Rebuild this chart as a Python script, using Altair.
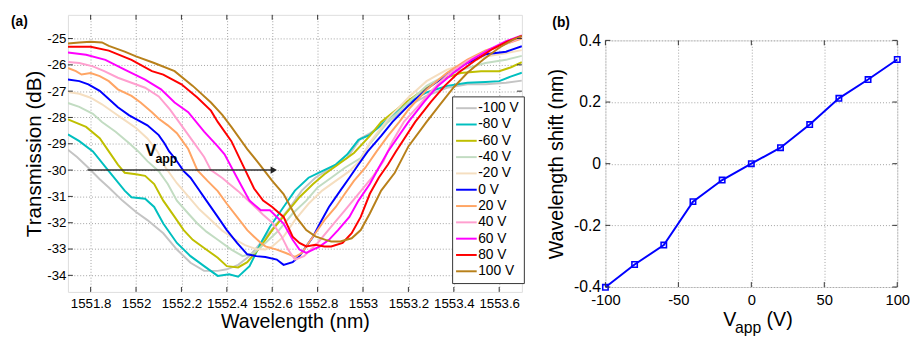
import altair as alt
import pandas as pd

FONT = "Liberation Sans"

# ---------------- panel (a) data ----------------
labels = ["-100 V", "-80 V", "-60 V", "-40 V", "-20 V", "0 V",
          "20 V", "40 V", "60 V", "80 V", "100 V"]
colors = ["#c4c4c4", "#00bfbf", "#bfbf00", "#c2dcc2", "#f5dec0", "#0000ff",
          "#ffa564", "#ff9fcf", "#ff00ff", "#ff0000", "#b8801a"]

wl_m100 = [1551.70, 1551.74, 1551.79, 1551.84, 1551.88, 1551.94, 1552.00, 1552.05, 1552.12, 1552.18,
           1552.24, 1552.30, 1552.36, 1552.40, 1552.45, 1552.50, 1552.56, 1552.62, 1552.68, 1552.73,
           1552.79, 1552.86, 1552.93, 1552.99, 1553.03, 1553.11, 1553.20, 1553.28, 1553.37, 1553.46,
           1553.54, 1553.63, 1553.70]
db_m100 = [-29.23, -29.5, -29.91, -30.35, -30.66, -31.16, -31.59, -31.9, -32.4, -33.02,
           -33.52, -33.83, -33.83, -33.77, -33.6, -33.27, -32.65, -32.03, -31.4, -30.78,
           -30.29, -29.91, -29.54, -28.79, -28.6, -28.17, -27.55, -27.18, -26.87, -26.74,
           -26.74, -26.68, -26.6]

wl_m80 = [1551.70, 1551.75, 1551.81, 1551.88, 1551.95, 1551.98, 1552.04, 1552.08, 1552.12, 1552.18,
          1552.24, 1552.30, 1552.36, 1552.41, 1552.45, 1552.50, 1552.55, 1552.59, 1552.65, 1552.70,
          1552.76, 1552.82, 1552.88, 1552.93, 1552.98, 1553.03, 1553.11, 1553.20, 1553.28, 1553.37,
          1553.46, 1553.54, 1553.60, 1553.65, 1553.70]
db_m80 = [-28.64, -28.9, -29.29, -30.04, -30.78, -31.03, -31.09, -31.4, -32.03, -32.77,
          -33.27, -33.65, -34.02, -33.96, -34.05, -33.65, -32.77, -32.15, -31.4, -30.78,
          -30.29, -30.04, -29.79, -29.41, -28.85, -28.66, -28.05, -27.43, -27.05, -26.8,
          -26.68, -26.65, -26.62, -26.45, -26.3]

wl_m60 = [1551.70, 1551.78, 1551.84, 1551.88, 1551.92, 1551.95, 1552.00, 1552.04, 1552.08, 1552.12,
          1552.17, 1552.21, 1552.25, 1552.30, 1552.36, 1552.40, 1552.45, 1552.49, 1552.55, 1552.60,
          1552.66, 1552.72, 1552.78, 1552.83, 1552.89, 1552.96, 1553.03, 1553.08, 1553.17, 1553.26,
          1553.34, 1553.43, 1553.52, 1553.60, 1553.65, 1553.70]
db_m60 = [-28.07, -28.36, -28.79, -29.29, -29.79, -30.1, -30.16, -30.22, -30.53, -31.16,
          -31.78, -32.28, -32.65, -32.96, -33.33, -33.65, -33.7, -33.5, -32.9, -32.28,
          -31.65, -31.03, -30.53, -30.16, -29.79, -29.35, -28.7, -28.17, -27.55, -26.99,
          -26.56, -26.31, -26.24, -26.24, -26.1, -25.9]

wl_m40 = [1551.70, 1551.75, 1551.81, 1551.85, 1551.91, 1551.97, 1552.01, 1552.05, 1552.10, 1552.14,
          1552.18, 1552.23, 1552.27, 1552.31, 1552.36, 1552.42, 1552.47, 1552.52, 1552.57, 1552.63,
          1552.69, 1552.75, 1552.80, 1552.86, 1552.92, 1552.99, 1553.03, 1553.11, 1553.20, 1553.28,
          1553.37, 1553.46, 1553.54, 1553.63, 1553.70]
db_m40 = [-27.45, -27.6, -27.86, -28.17, -28.54, -28.98, -29.29, -29.66, -30.04, -30.53,
          -31.16, -31.65, -32.03, -32.34, -32.65, -33.02, -33.27, -33.15, -32.77, -32.28,
          -31.65, -31.16, -30.66, -30.29, -29.91, -29.54, -29.0, -28.17, -27.43, -26.8,
          -26.37, -26.12, -25.93, -25.81, -25.66]

wl_m20 = [1551.70, 1551.75, 1551.80, 1551.85, 1551.90, 1551.95, 1552.00, 1552.05, 1552.095, 1552.13,
          1552.18, 1552.23, 1552.28, 1552.33, 1552.38, 1552.43, 1552.48, 1552.53, 1552.57, 1552.60,
          1552.65, 1552.70, 1552.76, 1552.82, 1552.88, 1552.94, 1552.99, 1553.03, 1553.11, 1553.20,
          1553.28, 1553.37, 1553.46, 1553.54, 1553.63, 1553.70]
db_m20 = [-27.03, -27.1, -27.25, -27.5, -27.8, -28.1, -28.4, -28.8, -29.3, -29.9,
          -30.5, -31.0, -31.5, -31.9, -32.3, -32.6, -32.85, -33.0, -33.02, -32.9,
          -32.53, -31.9, -31.28, -30.78, -30.41, -30.04, -29.6, -28.95, -28.05, -27.24,
          -26.62, -26.18, -25.93, -25.68, -25.56, -25.44]

wl_0 = [1551.70, 1551.75, 1551.79, 1551.84, 1551.88, 1551.92, 1551.97, 1552.01, 1552.05, 1552.10,
        1552.125, 1552.146, 1552.17, 1552.21, 1552.24, 1552.27, 1552.31, 1552.36, 1552.40, 1552.445,
        1552.49, 1552.53, 1552.57, 1552.62, 1552.65, 1552.69, 1552.72, 1552.75, 1552.78, 1552.81,
        1552.85, 1552.90, 1552.94, 1552.98, 1553.02, 1553.08, 1553.13, 1553.20, 1553.28, 1553.37,
        1553.46, 1553.54, 1553.63, 1553.70]
db_0 = [-26.56, -26.62, -26.74, -26.99, -27.3, -27.61, -27.92, -28.11, -28.3, -28.67,
        -28.98, -29.29, -29.54, -30.04, -30.29, -30.66, -31.16, -31.78, -32.28, -32.77,
        -33.2, -33.27, -33.3, -33.4, -33.6, -33.5, -33.27, -32.9, -32.53, -32.03,
        -31.4, -30.78, -30.29, -29.79, -29.3, -28.7, -28.17, -27.55, -26.93, -26.37,
        -25.93, -25.6, -25.5, -25.29]

wl_p20 = [1551.70, 1551.735, 1551.76, 1551.80, 1551.84, 1551.88, 1551.92, 1551.98, 1552.02, 1552.07,
          1552.10, 1552.14, 1552.18, 1552.23, 1552.27, 1552.315, 1552.36, 1552.40, 1552.445, 1552.49,
          1552.52, 1552.55, 1552.57, 1552.62, 1552.66, 1552.70, 1552.73, 1552.76, 1552.79, 1552.83,
          1552.88, 1552.92, 1552.96, 1553.01, 1553.06, 1553.11, 1553.16, 1553.20, 1553.28, 1553.37,
          1553.46, 1553.54, 1553.63, 1553.70]
db_p20 = [-26.12, -26.24, -26.37, -26.31, -26.43, -26.62, -26.93, -27.18, -27.43, -27.8,
          -28.05, -28.3, -28.6, -29.2, -30.0, -30.41, -30.8, -31.28, -31.78, -32.28,
          -32.53, -32.77, -32.9, -33.02, -33.15, -33.3, -33.15, -32.77, -32.4, -31.9,
          -31.4, -30.9, -30.41, -29.91, -29.29, -28.7, -28.17, -27.7, -26.95, -26.3,
          -25.8, -25.45, -25.2, -25.0]

wl_p40 = [1551.70, 1551.75, 1551.81, 1551.86, 1551.92, 1551.98, 1552.04, 1552.10, 1552.15, 1552.20,
          1552.25, 1552.30, 1552.33, 1552.38, 1552.45, 1552.50, 1552.56, 1552.60, 1552.64, 1552.67,
          1552.70, 1552.74, 1552.80, 1552.86, 1552.92, 1552.98, 1553.04, 1553.09, 1553.13, 1553.18,
          1553.25, 1553.30, 1553.37, 1553.46, 1553.54, 1553.63, 1553.70]
db_p40 = [-25.89, -25.93, -26.06, -26.24, -26.49, -26.68, -26.87, -27.2, -27.7, -28.3,
          -28.9, -29.5, -30.0, -30.3, -30.8, -31.2, -31.7, -32.0, -32.5, -33.02,
          -33.4, -33.27, -32.77, -32.15, -31.53, -30.9, -30.28, -29.66, -28.9, -28.17,
          -27.5, -27.0, -26.4, -25.85, -25.5, -25.2, -24.95]

wl_p60 = [1551.70, 1551.78, 1551.865, 1551.95, 1552.04, 1552.11, 1552.17, 1552.23, 1552.30, 1552.36,
          1552.39, 1552.445, 1552.50, 1552.55, 1552.59, 1552.65, 1552.69, 1552.72, 1552.75, 1552.78,
          1552.81, 1552.85, 1552.89, 1552.94, 1552.98, 1553.03, 1553.07, 1553.11, 1553.20, 1553.27,
          1553.33, 1553.40, 1553.48, 1553.56, 1553.63, 1553.70]
db_p60 = [-25.53, -25.62, -25.81, -26.18, -26.56, -26.93, -27.43, -27.8, -28.54, -29.1,
          -29.4, -30.29, -31.16, -31.53, -31.53, -32.03, -32.65, -33.02, -33.15, -33.02,
          -32.9, -32.65, -32.28, -31.78, -31.16, -30.53, -29.9, -29.29, -28.17, -27.4,
          -26.8, -26.3, -25.8, -25.4, -25.1, -24.88]

wl_p80 = [1551.70, 1551.80, 1551.88, 1551.98, 1552.07, 1552.12, 1552.20, 1552.27, 1552.33, 1552.36,
          1552.42, 1552.47, 1552.52, 1552.56, 1552.60, 1552.65, 1552.69, 1552.72, 1552.75, 1552.79,
          1552.83, 1552.86, 1552.91, 1552.95, 1552.99, 1553.03, 1553.07, 1553.11, 1553.145, 1553.23,
          1553.30, 1553.36, 1553.42, 1553.50, 1553.57, 1553.64, 1553.70]
db_p80 = [-25.31, -25.31, -25.46, -25.81, -26.24, -26.37, -26.74, -27.24, -27.74, -28.17,
          -28.9, -29.8, -30.7, -31.16, -31.4, -31.78, -32.53, -32.77, -32.9, -32.84,
          -32.9, -32.9, -32.77, -32.4, -31.78, -30.9, -30.28, -29.79, -29.29, -28.17,
          -27.4, -26.8, -26.3, -25.8, -25.4, -25.1, -24.9]

wl_p100 = [1551.70, 1551.75, 1551.80, 1551.85, 1551.88, 1551.95, 1552.00, 1552.08, 1552.17, 1552.25,
           1552.33, 1552.38, 1552.42, 1552.49, 1552.545, 1552.60, 1552.65, 1552.705, 1552.75, 1552.79,
           1552.835, 1552.86, 1552.90, 1552.95, 1552.99, 1553.03, 1553.08, 1553.14, 1553.20, 1553.28,
           1553.34, 1553.40, 1553.46, 1553.53, 1553.60, 1553.66, 1553.70]
db_p100 = [-25.19, -25.15, -25.12, -25.15, -25.28, -25.5, -25.68, -25.93, -26.24, -26.8,
           -27.43, -27.9, -28.36, -29.2, -29.79, -30.41, -30.91, -31.78, -32.28, -32.52,
           -32.65, -32.71, -32.71, -32.59, -32.28, -31.65, -30.78, -30.1, -29.1, -28.17,
           -27.5, -26.85, -26.3, -25.8, -25.35, -25.05, -24.9]

curves = [(wl_m100, db_m100), (wl_m80, db_m80), (wl_m60, db_m60), (wl_m40, db_m40),
          (wl_m20, db_m20), (wl_0, db_0), (wl_p20, db_p20), (wl_p40, db_p40),
          (wl_p60, db_p60), (wl_p80, db_p80), (wl_p100, db_p100)]

xticks_a = [1551.8, 1552.0, 1552.2, 1552.4, 1552.6, 1552.8, 1553.0, 1553.2, 1553.4, 1553.6]
yticks_a = [-34, -33, -32, -31, -30, -29, -28, -27, -26, -25]

# ---------------- panel (b) data ----------------
volts = [-100, -80, -60, -40, -20, 0, 20, 40, 60, 80, 100]
shift = [-0.401, -0.327, -0.264, -0.123, -0.053, 0.0, 0.052, 0.127, 0.212, 0.273, 0.338]
xticks_b = [-100, -50, 0, 50, 100]
yticks_b = [-0.4, -0.2, 0.0, 0.2, 0.4]

rows = []
for lab, (w, d) in zip(labels, curves):
    for a, b in zip(w, d):
        rows.append({"wl": a, "db": b, "label": lab})
df_a = pd.DataFrame(rows)
df_b = pd.DataFrame({"v": volts, "s": shift})

WA, HA = 462, 282
WB, HB = 297, 251
FRAME = "#333333"

grid_kw = dict(grid=True, gridColor="#a0a0a0", gridDash=[1, 2], gridWidth=1,
               domain=False, ticks=False, labelFont=FONT, titleFont=FONT,
               labelColor="black", titleColor="black", titleFontWeight="normal",
               labelOverlap=False, labelFlush=False, labelBound=False)

xs_a = alt.Scale(domain=[1551.7, 1553.7], nice=False, zero=False)
ys_a = alt.Scale(domain=[-34.63, -24.1], nice=False, zero=False)
ax_xa = alt.Axis(values=xticks_a, labelExpr="datum.value + ''", labelFontSize=13.5,
                 labelPadding=5, title="Wavelength (nm)", titleFontSize=20,
                 titlePadding=2, **grid_kw)
ax_ya = alt.Axis(values=yticks_a, labelExpr="datum.value + ''", labelFontSize=13.5,
                 labelPadding=2, title="Transmission (dB)", titleFontSize=21,
                 titlePadding=2, **grid_kw)


def XA(f):
    return alt.X(f, scale=xs_a, axis=ax_xa)


def YA(f):
    return alt.Y(f, scale=ys_a, axis=ax_ya)


def XAd(v):
    return alt.XDatum(v, scale=xs_a, axis=ax_xa)


def YAd(v):
    return alt.YDatum(v, scale=ys_a, axis=ax_ya)


lines_a = alt.Chart(df_a).mark_line(strokeWidth=2, clip=True).encode(
    x=XA("wl:Q"), y=YA("db:Q"),
    color=alt.Color("label:N", scale=alt.Scale(domain=labels, range=colors),
                    legend=alt.Legend(orient="none", legendX=391, legendY=83, title=None,
                                      labelFont=FONT, labelFontSize=14, labelColor="black",
                                      symbolType="M-2.1,0H2.1", symbolSize=100,
                                      symbolStrokeWidth=2, symbolOffset=2.5, labelOffset=5,
                                      padding=5, rowPadding=2.6, fillColor="white",
                                      strokeColor=FRAME)),
)

one = pd.DataFrame({"a": [0]})
arrow_line = alt.Chart(one).mark_rule(color="#333333", strokeWidth=1.5).encode(
    x=XAd(1551.786), x2=alt.X2Datum(1552.60), y=YAd(-30.0))
arrow_head = alt.Chart(one).mark_point(
    shape="triangle-right", filled=True, size=55, color="#222222", opacity=1).encode(
    x=XAd(1552.607), y=YAd(-30.0))
v_txt = alt.Chart(pd.DataFrame({"t": ["V"]})).mark_text(
    font=FONT, fontSize=17, fontWeight="bold", align="left", baseline="alphabetic").encode(
    x=XAd(1552.041), y=YAd(-29.48), text="t:N")
app_txt = alt.Chart(pd.DataFrame({"t": ["app"]})).mark_text(
    font=FONT, fontSize=12.5, fontWeight="bold", align="left", baseline="alphabetic").encode(
    x=XAd(1552.086), y=YAd(-29.72), text="t:N")
lab_a = alt.Chart(pd.DataFrame({"t": ["(a)"]})).mark_text(
    font=FONT, fontSize=14, fontWeight="bold", align="left", baseline="top").encode(
    x=alt.value(-58), y=alt.value(0), text="t:N")

tk = dict(color=FRAME, strokeWidth=1)
tx_a = pd.DataFrame({"t": xticks_a})
ty_a = pd.DataFrame({"t": yticks_a})
ticks_a = [
    alt.Chart(tx_a).mark_rule(**tk).encode(x=XA("t:Q"), y=alt.value(HA), y2=alt.value(HA - 5)),
    alt.Chart(tx_a).mark_rule(**tk).encode(x=XA("t:Q"), y=alt.value(0), y2=alt.value(5)),
    alt.Chart(ty_a).mark_rule(**tk).encode(y=YA("t:Q"), x=alt.value(0), x2=alt.value(5)),
    alt.Chart(ty_a).mark_rule(**tk).encode(y=YA("t:Q"), x=alt.value(WA - 5), x2=alt.value(WA)),
]

panel_a = alt.layer(lines_a, arrow_line, arrow_head, v_txt, app_txt, lab_a, *ticks_a).properties(
    width=WA, height=HA)

# ---------------- panel (b) ----------------
xs_b = alt.Scale(domain=[-100, 100], nice=False, zero=False)
ys_b = alt.Scale(domain=[-0.4, 0.4], nice=False, zero=False)
ax_xb = alt.Axis(values=xticks_b, labelExpr="datum.value + ''", labelFontSize=15,
                 labelPadding=6, title=None, **grid_kw)
ax_yb = alt.Axis(values=yticks_b, labelExpr="datum.value + ''", labelFontSize=16,
                 labelPadding=5, title="Wavelength shift (nm)", titleFontSize=20,
                 titlePadding=7.5, **grid_kw)


def XB(f):
    return alt.X(f, scale=xs_b, axis=ax_xb)


def YB(f):
    return alt.Y(f, scale=ys_b, axis=ax_yb)


line_b = alt.Chart(df_b).mark_line(color="#0000ff", strokeWidth=2).encode(x=XB("v:Q"), y=YB("s:Q"))
pts_b = alt.Chart(df_b).mark_point(shape="square", filled=False, size=30, strokeWidth=1.6,
                                   color="#0000ff", opacity=1).encode(x=XB("v:Q"), y=YB("s:Q"))

tx_b = pd.DataFrame({"t": xticks_b})
ty_b = pd.DataFrame({"t": yticks_b})
ticks_b = [
    alt.Chart(tx_b).mark_rule(**tk).encode(x=XB("t:Q"), y=alt.value(HB), y2=alt.value(HB - 5)),
    alt.Chart(tx_b).mark_rule(**tk).encode(x=XB("t:Q"), y=alt.value(0), y2=alt.value(5)),
    alt.Chart(ty_b).mark_rule(**tk).encode(y=YB("t:Q"), x=alt.value(0), x2=alt.value(5)),
    alt.Chart(ty_b).mark_rule(**tk).encode(y=YB("t:Q"), x=alt.value(WB - 5), x2=alt.value(WB)),
]

xt_v = alt.Chart(pd.DataFrame({"t": ["V"]})).mark_text(
    font=FONT, fontSize=20, align="left", baseline="alphabetic").encode(
    x=alt.value(120), y=alt.value(291), text="t:N")
xt_app = alt.Chart(pd.DataFrame({"t": ["app"]})).mark_text(
    font=FONT, fontSize=16, align="left", baseline="alphabetic").encode(
    x=alt.value(132), y=alt.value(298), text="t:N")
xt_unit = alt.Chart(pd.DataFrame({"t": ["(V)"]})).mark_text(
    font=FONT, fontSize=20, align="left", baseline="alphabetic").encode(
    x=alt.value(164), y=alt.value(291), text="t:N")

panel_b = alt.layer(line_b, pts_b, *ticks_b, xt_v, xt_app, xt_unit).properties(
    width=WB, height=HB)

# spacer row above panel (b) carrying its "(b)" label
spacer_b = alt.Chart(pd.DataFrame({"t": ["(b)"]})).mark_text(
    font=FONT, fontSize=14, fontWeight="bold", align="left", baseline="top").encode(
    x=alt.value(-54), y=alt.value(1), text="t:N").properties(
    width=WB, height=17, view=alt.ViewBackground(stroke="transparent", strokeWidth=0))

right = alt.vconcat(spacer_b, panel_b, spacing=0)

chart = alt.hconcat(panel_a, right, spacing=23).properties(
    padding={"left": 2, "top": 3, "right": 0, "bottom": 2}
).configure_view(stroke=FRAME, strokeWidth=1).configure(font=FONT)

chart.save("out.html", embed_options={"renderer": "svg", "actions": False})
